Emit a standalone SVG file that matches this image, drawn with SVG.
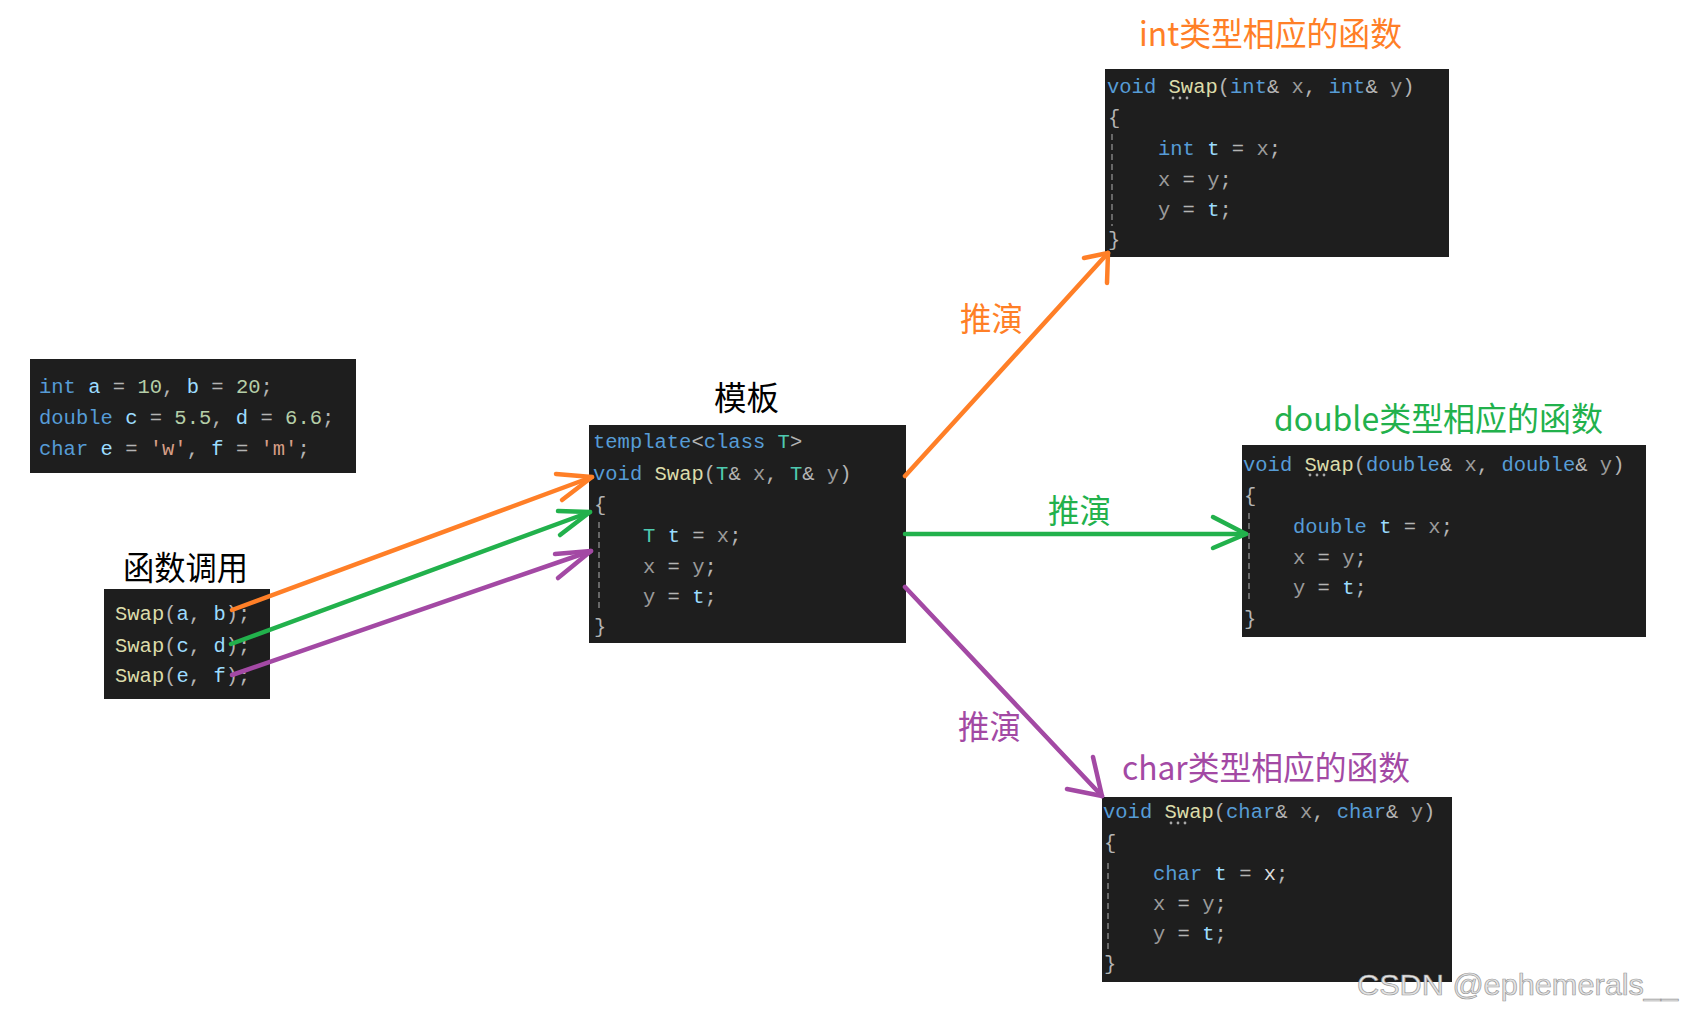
<svg xmlns="http://www.w3.org/2000/svg" width="1684" height="1016" viewBox="0 0 1684 1016">
<style>
.bg{fill:#1e1e1e}
.code{font-family:"Liberation Mono","DejaVu Sans Mono",monospace;font-size:20.5px;fill:#b4b4b4;white-space:pre}
.kw{fill:#569cd6}
.fn{fill:#dcdcaa}
.vr{fill:#9cdcfe}
.nm{fill:#b5cea8}
.st{fill:#d69d85}
.ty{fill:#4ec9b0}
.pm{fill:#9a9a9a}
.guide{stroke:#808080;stroke-width:1.5;stroke-dasharray:6 4;fill:none}
.dot{fill:#a8a8a8}
.title{font-family:"Noto Sans CJK SC","Noto Sans",sans-serif;font-size:33px}
.black{fill:#000}
.orange{fill:#ff7f27}
.green{fill:#22b14c}
.purple{fill:#a349a4}
.ln{fill:none;stroke-width:4.5;stroke-linecap:round;stroke-linejoin:round}
.so{stroke:#ff7f27}
.sg{stroke:#22b14c}
.sp{stroke:#a349a4}
.wm{font-family:"Liberation Sans",Arial,sans-serif;font-size:30px;fill:#e4e4e4;stroke:#9a9a9a;stroke-width:0.7}
</style>

<g id="vars">
<rect class="bg" x="30" y="359" width="326" height="114"/>
<text class="code" xml:space="preserve" x="39" y="393"><tspan class="kw">int</tspan> <tspan class="vr">a</tspan> = <tspan class="nm">10</tspan>, <tspan class="vr">b</tspan> = <tspan class="nm">20</tspan>;</text>
<text class="code" xml:space="preserve" x="39" y="424"><tspan class="kw">double</tspan> <tspan class="vr">c</tspan> = <tspan class="nm">5.5</tspan>, <tspan class="vr">d</tspan> = <tspan class="nm">6.6</tspan>;</text>
<text class="code" xml:space="preserve" x="39" y="455"><tspan class="kw">char</tspan> <tspan class="vr">e</tspan> = <tspan class="st">'w'</tspan>, <tspan class="vr">f</tspan> = <tspan class="st">'m'</tspan>;</text>
</g>

<g id="calls">
<text class="title black" x="123" y="580" textLength="125" lengthAdjust="spacingAndGlyphs">函数调用</text>
<rect class="bg" x="104" y="589" width="166" height="110"/>
<text class="code" xml:space="preserve" x="115" y="620"><tspan class="fn">Swap</tspan>(<tspan class="vr">a</tspan>, <tspan class="vr">b</tspan>);</text>
<text class="code" xml:space="preserve" x="115" y="652"><tspan class="fn">Swap</tspan>(<tspan class="vr">c</tspan>, <tspan class="vr">d</tspan>);</text>
<text class="code" xml:space="preserve" x="115" y="682"><tspan class="fn">Swap</tspan>(<tspan class="vr">e</tspan>, <tspan class="vr">f</tspan>);</text>
</g>

<g id="template">
<text class="title black" x="714" y="410" textLength="65" lengthAdjust="spacingAndGlyphs">模板</text>
<rect class="bg" x="589" y="425" width="317" height="218"/>
<text class="code" xml:space="preserve" x="593" y="448"><tspan class="kw">template</tspan>&lt;<tspan class="kw">class</tspan> <tspan class="ty">T</tspan>&gt;</text>
<text class="code" xml:space="preserve" x="593" y="480"><tspan class="kw">void</tspan> <tspan class="fn">Swap</tspan>(<tspan class="ty">T</tspan>&amp; <tspan class="pm">x</tspan>, <tspan class="ty">T</tspan>&amp; <tspan class="pm">y</tspan>)</text>
<text class="code" x="594" y="511">{</text>
<text class="code" xml:space="preserve" x="643" y="542"><tspan class="ty">T</tspan> <tspan class="vr">t</tspan> = <tspan class="pm">x</tspan>;</text>
<text class="code" xml:space="preserve" x="643" y="573"><tspan class="pm">x</tspan> = <tspan class="pm">y</tspan>;</text>
<text class="code" xml:space="preserve" x="643" y="603"><tspan class="pm">y</tspan> = <tspan class="vr">t</tspan>;</text>
<text class="code" x="594" y="633">}</text>
<line class="guide" x1="599" y1="522" x2="599" y2="612"/>
</g>

<g id="int-func">
<text class="title orange" x="1139" y="46" textLength="263" lengthAdjust="spacingAndGlyphs">int类型相应的函数</text>
<rect class="bg" x="1105" y="69" width="344" height="188"/>
<text class="code" xml:space="preserve" x="1107" y="93"><tspan class="kw">void</tspan> <tspan class="fn">Swap</tspan>(<tspan class="kw">int</tspan>&amp; <tspan class="pm">x</tspan>, <tspan class="kw">int</tspan>&amp; <tspan class="pm">y</tspan>)</text>
<circle class="dot" cx="1173" cy="98" r="1.4"/><circle class="dot" cx="1180" cy="98" r="1.4"/><circle class="dot" cx="1187" cy="98" r="1.4"/>
<text class="code" x="1108" y="124">{</text>
<text class="code" xml:space="preserve" x="1158" y="155"><tspan class="kw">int</tspan> <tspan class="vr">t</tspan> = <tspan class="pm">x</tspan>;</text>
<text class="code" xml:space="preserve" x="1158" y="186"><tspan class="pm">x</tspan> = <tspan class="pm">y</tspan>;</text>
<text class="code" xml:space="preserve" x="1158" y="216"><tspan class="pm">y</tspan> = <tspan class="vr">t</tspan>;</text>
<text class="code" x="1108" y="246">}</text>
<line class="guide" x1="1112" y1="134" x2="1112" y2="226"/>
</g>

<g id="double-func">
<text class="title green" x="1274" y="431" textLength="329" lengthAdjust="spacingAndGlyphs">double类型相应的函数</text>
<rect class="bg" x="1242" y="445" width="404" height="192"/>
<text class="code" xml:space="preserve" x="1243" y="471"><tspan class="kw">void</tspan> <tspan class="fn">Swap</tspan>(<tspan class="kw">double</tspan>&amp; <tspan class="pm">x</tspan>, <tspan class="kw">double</tspan>&amp; <tspan class="pm">y</tspan>)</text>
<circle class="dot" cx="1310" cy="475" r="1.4"/><circle class="dot" cx="1317" cy="475" r="1.4"/><circle class="dot" cx="1324" cy="475" r="1.4"/>
<text class="code" x="1244" y="502">{</text>
<text class="code" xml:space="preserve" x="1293" y="533"><tspan class="kw">double</tspan> <tspan class="vr">t</tspan> = <tspan class="pm">x</tspan>;</text>
<text class="code" xml:space="preserve" x="1293" y="564"><tspan class="pm">x</tspan> = <tspan class="pm">y</tspan>;</text>
<text class="code" xml:space="preserve" x="1293" y="594"><tspan class="pm">y</tspan> = <tspan class="vr">t</tspan>;</text>
<text class="code" x="1244" y="625">}</text>
<line class="guide" x1="1249" y1="513" x2="1249" y2="602"/>
</g>

<g id="char-func">
<text class="title purple" x="1122" y="780" textLength="288" lengthAdjust="spacingAndGlyphs">char类型相应的函数</text>
<rect class="bg" x="1102" y="797" width="350" height="185"/>
<text class="code" xml:space="preserve" x="1103" y="818"><tspan class="kw">void</tspan> <tspan class="fn">Swap</tspan>(<tspan class="kw">char</tspan>&amp; <tspan class="pm">x</tspan>, <tspan class="kw">char</tspan>&amp; <tspan class="pm">y</tspan>)</text>
<circle class="dot" cx="1171" cy="823" r="1.4"/><circle class="dot" cx="1178" cy="823" r="1.4"/><circle class="dot" cx="1185" cy="823" r="1.4"/>
<text class="code" x="1104" y="849">{</text>
<text class="code" xml:space="preserve" x="1153" y="880"><tspan class="kw">char</tspan> <tspan class="vr">t</tspan> = <tspan fill="#dcdcdc">x</tspan>;</text>
<text class="code" xml:space="preserve" x="1153" y="910"><tspan class="pm">x</tspan> = <tspan class="pm">y</tspan>;</text>
<text class="code" xml:space="preserve" x="1153" y="940"><tspan class="pm">y</tspan> = <tspan class="vr">t</tspan>;</text>
<text class="code" x="1104" y="970">}</text>
<line class="guide" x1="1108" y1="863" x2="1108" y2="950"/>
</g>

<g id="connectors">
<path class="ln so" d="M232,610 L592,477"/>
<path class="ln so" d="M556,474 L592,477 L562,500"/>
<path class="ln sg" d="M231,644 L590,512"/>
<path class="ln sg" d="M558,511 L590,512 L560,535"/>
<path class="ln sp" d="M232,675 L591,551"/>
<path class="ln sp" d="M555,554 L591,551 L558,578"/>

<path class="ln so" d="M905,476 L1108,253"/>
<path class="ln so" d="M1084,258 L1108,253 L1107,283"/>
<text class="title orange" x="960" y="331" font-size="32" textLength="63" lengthAdjust="spacingAndGlyphs">推演</text>

<path class="ln sg" d="M905,534 L1246,534"/>
<path class="ln sg" d="M1213,517 L1246,534 L1213,548"/>
<text class="title green" x="1048" y="523" font-size="32" textLength="63" lengthAdjust="spacingAndGlyphs">推演</text>

<path class="ln sp" d="M905,587 L1102,796"/>
<path class="ln sp" d="M1093,757 L1102,796 L1067,789"/>
<text class="title purple" x="958" y="739" font-size="32" textLength="63" lengthAdjust="spacingAndGlyphs">推演</text>
</g>

<text class="wm" x="1357" y="995" textLength="321" lengthAdjust="spacingAndGlyphs">CSDN @ephemerals__</text>
</svg>
